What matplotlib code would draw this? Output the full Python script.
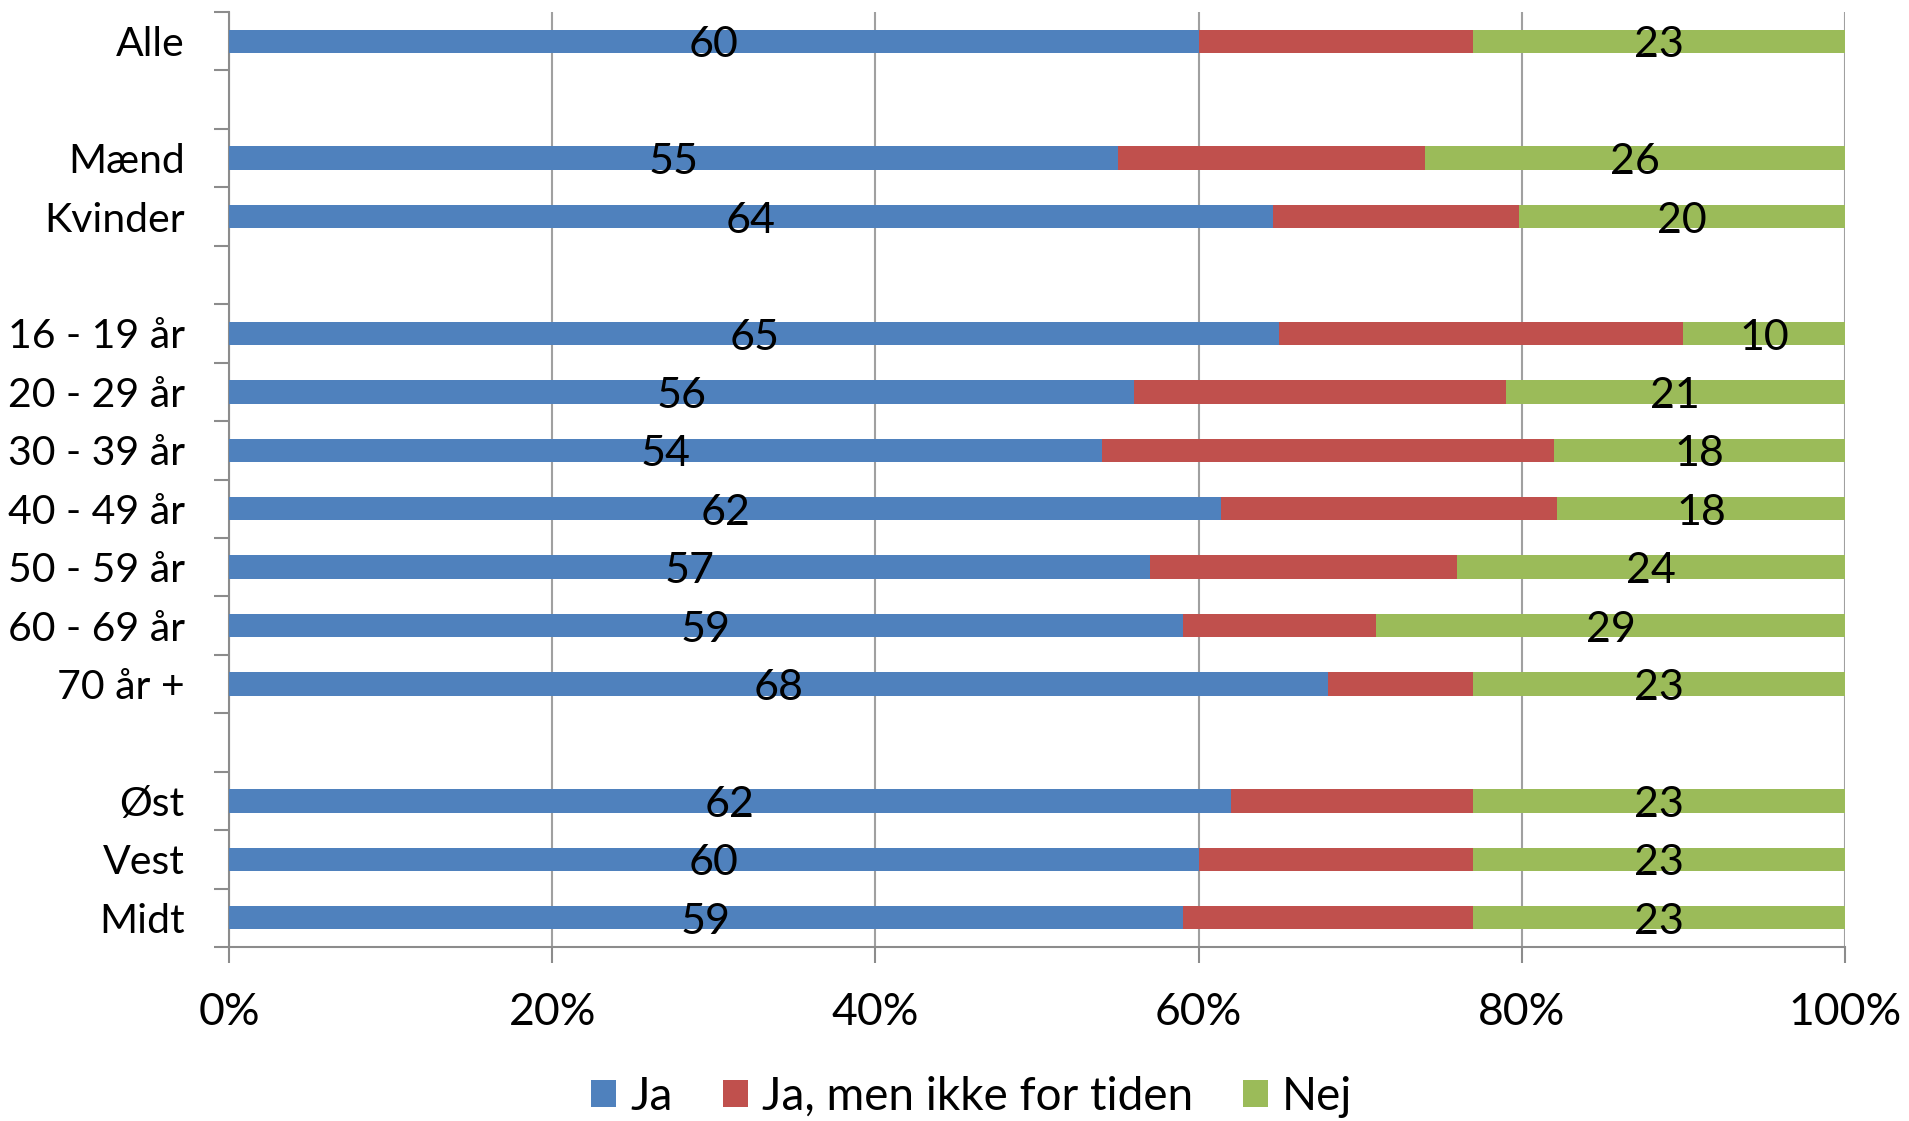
import matplotlib
matplotlib.use("Agg")
import matplotlib.pyplot as plt
import numpy as np
from matplotlib.ticker import FixedLocator, MultipleLocator, FuncFormatter

plt.rcParams['font.family'] = ['Lato', 'DejaVu Sans']

categories = ["Alle", "", "Mænd", "Kvinder", "", "16 - 19 år", "20 - 29 år", "30 - 39 år",
              "40 - 49 år", "50 - 59 år", "60 - 69 år", "70 år +", "", "Øst", "Vest", "Midt"]
ja =    [60.0, np.nan, 55.0, 64.6, np.nan, 65.0, 56.0, 54.0, 61.4, 57.0, 59.0, 68.0, np.nan, 62.0, 60.0, 59.0]
ikke =  [17.0, np.nan, 19.0, 15.2, np.nan, 25.0, 23.0, 28.0, 20.8, 19.0, 12.0,  9.0, np.nan, 15.0, 17.0, 18.0]
nej =   [23.0, np.nan, 26.0, 20.2, np.nan, 10.0, 21.0, 18.0, 17.8, 24.0, 29.0, 23.0, np.nan, 23.0, 23.0, 23.0]
ja_labels =  ["60", "", "55", "64", "", "65", "56", "54", "62", "57", "59", "68", "", "62", "60", "59"]
nej_labels = ["23", "", "26", "20", "", "10", "21", "18", "18", "24", "29", "23", "", "23", "23", "23"]
series_names = ["Ja", "Ja, men ikke for tiden", "Nej"]
colors = ["#4F81BD", "#C0504D", "#9BBB59"]

fig = plt.figure(figsize=(19.09, 11.21), dpi=100)
ax = fig.add_axes([0.12, 0.1552, 0.8465, 0.8341])

y = np.arange(len(categories))
ja_a = np.array(ja); ik_a = np.array(ikke); nej_a = np.array(nej)
h = 0.40
ax.barh(y, ja_a, height=h, color=colors[0], label=series_names[0], zorder=3)
ax.barh(y, ik_a, left=ja_a, height=h, color=colors[1], label=series_names[1], zorder=3)
ax.barh(y, nej_a, left=ja_a + ik_a, height=h, color=colors[2], label=series_names[2], zorder=3)

lab_fs = 31
for i in range(len(categories)):
    if ja_labels[i]:
        ax.text(ja_a[i] / 2, y[i] + 0.07, ja_labels[i], ha='center', va='center', fontsize=lab_fs, zorder=4)
    if nej_labels[i]:
        start = ja_a[i] + ik_a[i]
        ax.text(start + nej_a[i] / 2, y[i] + 0.07, nej_labels[i], ha='center', va='center', fontsize=lab_fs, zorder=4)

ax.set_xlim(0, 100)
ax.set_ylim(len(categories) - 0.5, -0.5)
ax.xaxis.set_major_locator(MultipleLocator(20))
ax.xaxis.set_major_formatter(FuncFormatter(lambda v, p: f"{int(round(v))}%"))
ax.set_yticks(y)
ax.set_yticklabels(categories)
ax.yaxis.set_minor_locator(FixedLocator(np.arange(-0.5, len(categories), 1.0)))
ax.tick_params(axis='y', which='major', length=0, pad=32, labelsize=29.5)
ax.tick_params(axis='y', which='minor', length=11, width=1.5, color='#8C8C8C', direction='out')
ax.tick_params(axis='x', which='major', length=11.5, width=1.5, color='#8C8C8C', direction='out', pad=21, labelsize=32)

ax.grid(axis='x', color='#A0A0A0', linewidth=1.5, zorder=0)
for s in ['top', 'right']:
    ax.spines[s].set_visible(False)
for s in ['left', 'bottom']:
    ax.spines[s].set_color('#8C8C8C')
    ax.spines[s].set_linewidth(1.5)

leg = fig.legend(loc='lower center', bbox_to_anchor=(0.509, -0.034), ncol=3, frameon=False,
                 fontsize=33, handlelength=0.55, handleheight=0.55, handletextpad=0.3, columnspacing=1.1)

fig.savefig("out.png", dpi=100)
